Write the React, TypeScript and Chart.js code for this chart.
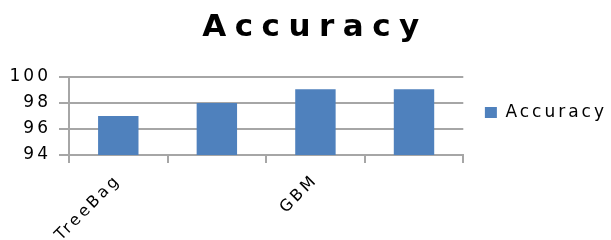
import React, { useEffect, useRef } from "react";
import { Chart, registerables } from "chart.js";

Chart.register(...registerables);

const categories = ["TreeBag", "", "GBM", ""];
const accuracyValues = [97.0, 98.0, 99.05, 99.05];
const seriesName = "Accuracy";
const chartTitle = "Accuracy";
const yMin = 94;
const yMax = 100;
const yStep = 2;

const FONT = "'DejaVu Sans', Verdana, sans-serif";

const spacingPlugin = {
  id: "spacing",
  beforeLayout(chart: any) {
    chart.ctx.letterSpacing = "3px";
  },
  beforeDraw(chart: any) {
    chart.ctx.letterSpacing = "3px";
  },
  afterDraw(chart: any) {
    const ctx = chart.ctx;
    ctx.save();
    ctx.letterSpacing = "8.5px";
    ctx.font = `bold 31px ${FONT}`;
    ctx.fillStyle = "#000";
    ctx.textAlign = "center";
    ctx.textBaseline = "alphabetic";
    ctx.fillText(chartTitle, 311 + 4, 36);
    ctx.restore();
  },
};

export default function App() {
  const ref = useRef<HTMLCanvasElement | null>(null);
  useEffect(() => {
    if (!ref.current) return;
    const chart = new Chart(ref.current, {
      type: "bar",
      data: {
        labels: categories,
        datasets: [
          {
            label: seriesName,
            data: accuracyValues,
            backgroundColor: "#4f81bd",
            borderWidth: 0,
            categoryPercentage: 1,
            barPercentage: 0.41,
          },
        ],
      },
      options: {
        animation: false,
        responsive: true,
        maintainAspectRatio: false,
        layout: { padding: { top: 77, left: 0, right: -6, bottom: 0 } },
        plugins: {
          title: { display: false },
          tooltip: { enabled: false },
          legend: {
            display: true,
            position: "right",
            fullSize: false,
            title: { display: true, text: "", font: { size: 1 }, padding: { top: -8, bottom: 0 } },
            labels: {
              boxWidth: 12,
              boxHeight: 11,
              padding: 21.6,
              color: "#000",
              font: { family: FONT, size: 17 },
            },
          },
        },
        scales: {
          x: {
            afterFit(scale: any) {
              scale.height = 85;
            },
            grid: {
              offset: true,
              drawOnChartArea: false,
              drawTicks: true,
              tickLength: 8,
              color: "#a6a6a6",
              lineWidth: 2,
            },
            border: { display: true, color: "#a6a6a6", width: 2 },
            ticks: {
              autoSkip: false,
              minRotation: 45,
              maxRotation: 45,
              padding: 8,
              color: "#000",
              font: { family: FONT, size: 16 },
            },
          },
          y: {
            min: yMin,
            max: yMax,
            afterFit(scale: any) {
              scale.width = 69;
            },
            grid: {
              drawTicks: true,
              tickLength: 10,
              color: "#a6a6a6",
              lineWidth: 2,
            },
            border: { display: true, color: "#a6a6a6", width: 2 },
            ticks: {
              stepSize: yStep,
              padding: 8,
              color: "#000",
              font: { family: FONT, size: 17 },
            },
          },
        },
      },
      plugins: [spacingPlugin],
    });
    return () => chart.destroy();
  }, []);
  return (
    <div style={{ position: "fixed", left: 0, top: 0, width: 611, height: 240 }}>
      <canvas ref={ref} />
    </div>
  );
}
